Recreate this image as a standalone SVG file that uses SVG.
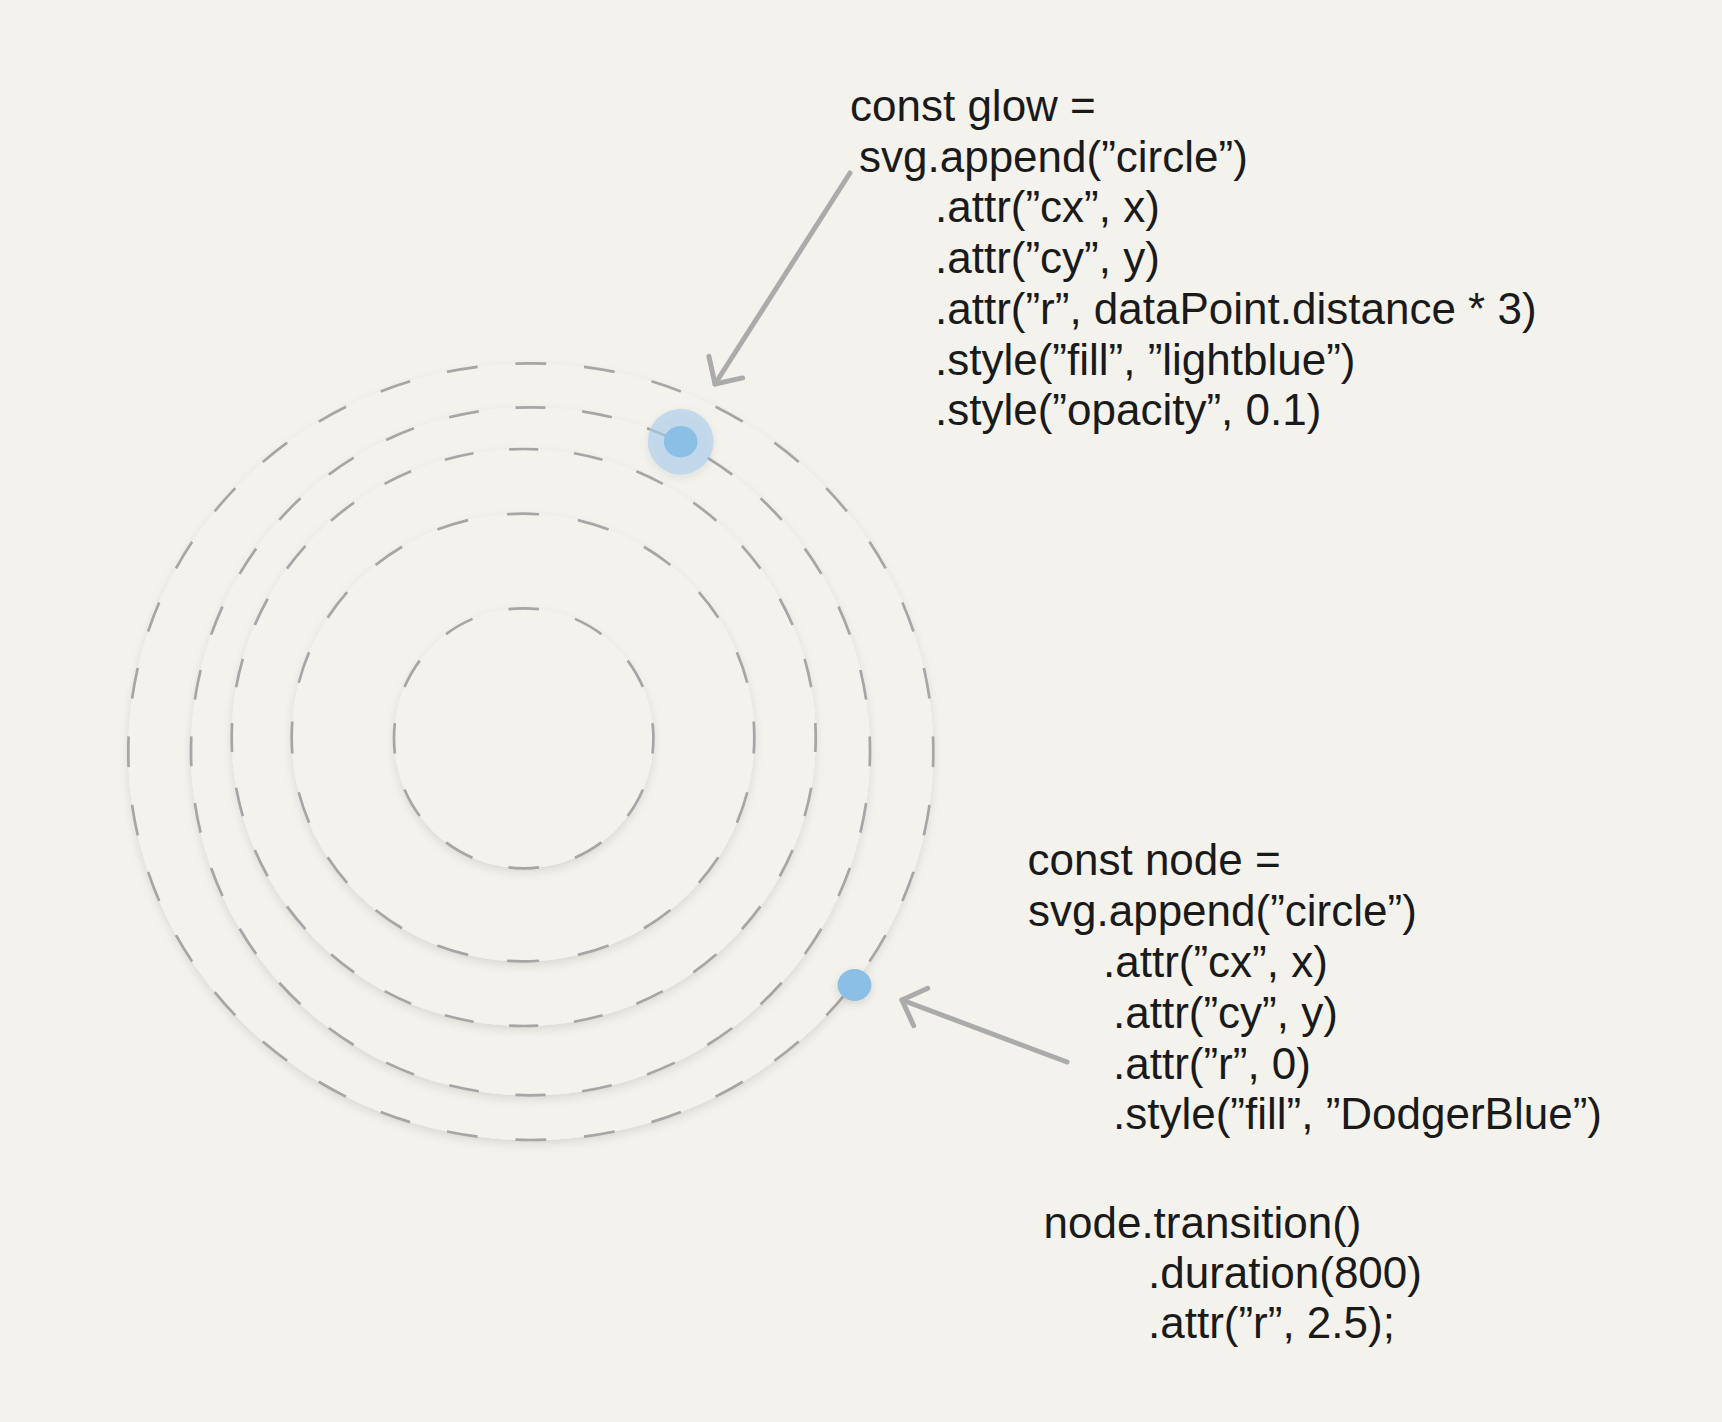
<svg xmlns="http://www.w3.org/2000/svg" width="1722" height="1422" viewBox="0 0 1722 1422">
  <defs>
    <style>
      .bg { fill: #F4F2EC; }
      .ring-fill { fill: #F4F2ED; filter: url(#ringShadow); }
      .ring { fill: none; stroke: #A6A6A6; stroke-width: 2.7; stroke-dasharray: 45 55; stroke-dashoffset: 22.5; }
      .code { font-family: "Liberation Sans", Arial, sans-serif; font-size: 44px; fill: #1A1A1A; }
      .conn { fill: none; stroke: #ABABAB; stroke-width: 5; stroke-linecap: round; }
      .dot { fill: #8BBFE6; }
    </style>
    <filter id="ringShadow" x="-10%" y="-10%" width="120%" height="120%">
      <feDropShadow dx="0" dy="4" stdDeviation="5" flood-color="#000" flood-opacity="0.11"/>
    </filter>
    <filter id="dotShadow" x="-50%" y="-50%" width="200%" height="200%">
      <feDropShadow dx="0" dy="3" stdDeviation="4" flood-color="#000" flood-opacity="0.12"/>
    </filter>
    <marker id="ah" markerUnits="userSpaceOnUse" markerWidth="60" markerHeight="60" viewBox="-30 -30 60 60" refX="0" refY="0" orient="auto" overflow="visible">
      <path d="M-20,-20 L0,0 L-20,20" fill="none" stroke="#ABABAB" stroke-width="5" stroke-linecap="round" stroke-linejoin="round"/>
    </marker>
  </defs>

  <rect class="bg" x="0" y="0" width="1722" height="1422"/>

  <g id="rings">
    <g id="ring5">
      <ellipse class="ring-fill" cx="530.8" cy="751.7" rx="402.5" ry="388.3"/>
      <ellipse class="ring" cx="530.8" cy="751.7" rx="402.5" ry="388.3" pathLength="3600"/>
    </g>
    <g id="ring4">
      <ellipse class="ring-fill" cx="530.5" cy="751.3" rx="339.5" ry="344"/>
      <ellipse class="ring" cx="530.5" cy="751.3" rx="339.5" ry="344" pathLength="3200"/>
    </g>
    <g id="ring3">
      <ellipse class="ring-fill" cx="523.7" cy="737.5" rx="292" ry="288.5"/>
      <ellipse class="ring" cx="523.7" cy="737.5" rx="292" ry="288.5" pathLength="2800"/>
    </g>
    <g id="ring2">
      <ellipse class="ring-fill" cx="523" cy="737.5" rx="231.3" ry="223.8"/>
      <ellipse class="ring" cx="523" cy="737.5" rx="231.3" ry="223.8" pathLength="2000"/>
    </g>
    <g id="ring1">
      <ellipse class="ring-fill" cx="523.7" cy="738.3" rx="129.7" ry="130"/>
      <ellipse class="ring" cx="523.7" cy="738.3" rx="129.7" ry="130" pathLength="1200"/>
    </g>
  </g>

  <g id="glow-dot">
    <circle cx="680.7" cy="441.7" r="33" fill="#A9CFEE" fill-opacity="0.62" filter="url(#dotShadow)"/>
    <ellipse class="dot" cx="680.7" cy="441.7" rx="16.8" ry="15.8"/>
  </g>

  <g id="node-dot">
    <ellipse class="dot" cx="854.5" cy="985" rx="17" ry="16" filter="url(#dotShadow)"/>
  </g>

  <g id="connectors">
    <line class="conn" x1="850" y1="173" x2="715" y2="384" marker-end="url(#ah)"/>
    <line class="conn" x1="1067" y1="1062" x2="902" y2="1000" marker-end="url(#ah)"/>
  </g>

  <g id="glow-code" class="code">
    <text x="850" y="121">const glow =</text>
    <text x="859" y="171.7">svg.append(”circle”)</text>
    <text x="935" y="222.4">.attr(”cx”, x)</text>
    <text x="935" y="273.1">.attr(”cy”, y)</text>
    <text x="935" y="323.8">.attr(”r”, dataPoint.distance * 3)</text>
    <text x="935" y="374.5">.style(”fill”, ”lightblue”)</text>
    <text x="935" y="425.2">.style(”opacity”, 0.1)</text>
  </g>

  <g id="node-code" class="code">
    <text x="1027.5" y="875.4">const node =</text>
    <text x="1028" y="926.4">svg.append(”circle”)</text>
    <text x="1103" y="977">.attr(”cx”, x)</text>
    <text x="1113" y="1028">.attr(”cy”, y)</text>
    <text x="1113" y="1079">.attr(”r”, 0)</text>
    <text x="1113" y="1129">.style(”fill”, ”DodgerBlue”)</text>
    <text x="1043.5" y="1238">node.transition()</text>
    <text x="1148" y="1288">.duration(800)</text>
    <text x="1148" y="1338">.attr(”r”, 2.5);</text>
  </g>
</svg>
